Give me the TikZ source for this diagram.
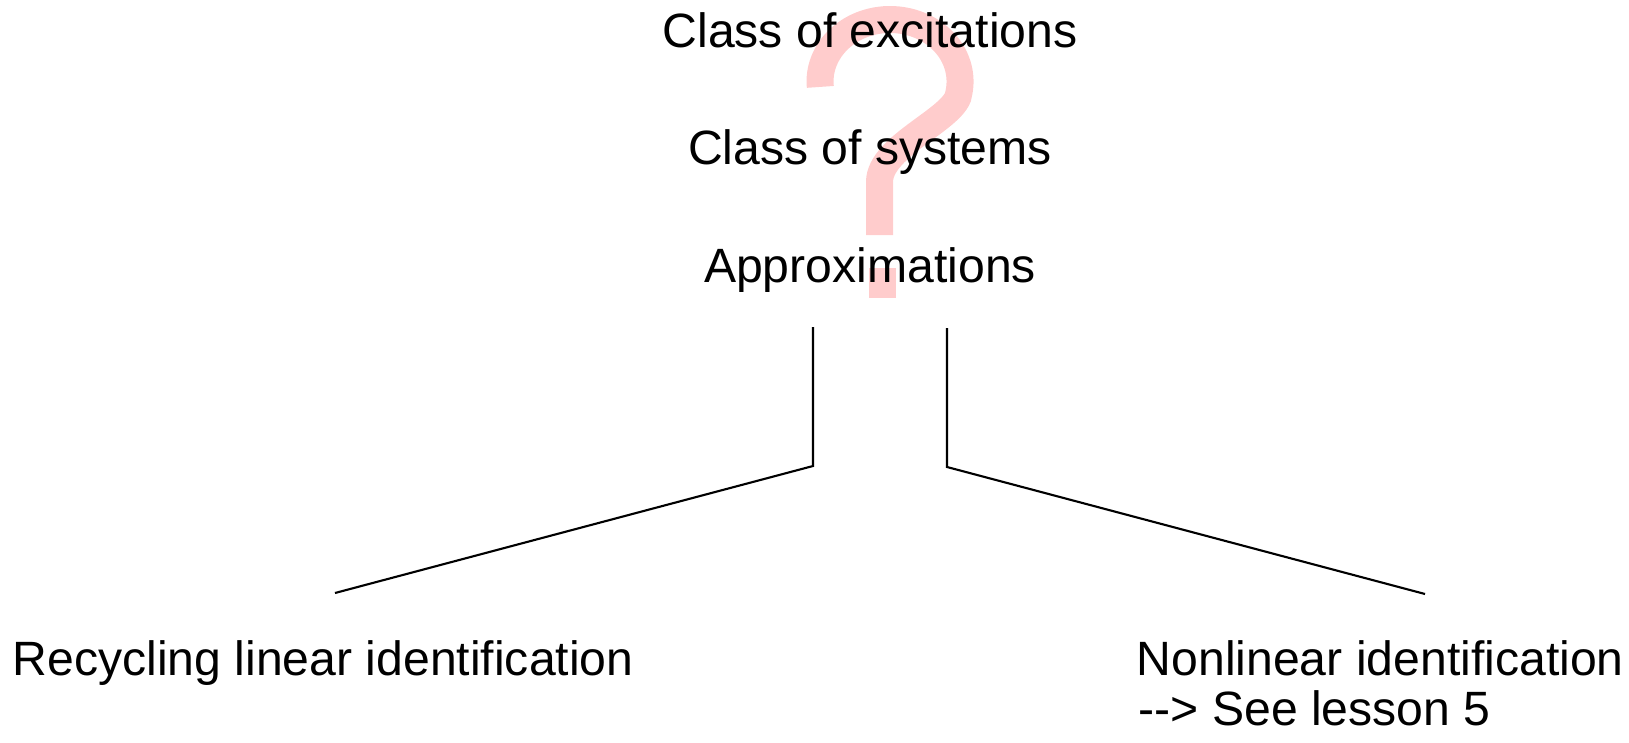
\documentclass[tikz,border=0pt]{standalone}
\usepackage{fontspec}
\setmainfont{Liberation Sans}
\definecolor{querycolor}{RGB}{255,204,204}

\begin{document}
\begin{tikzpicture}[every node/.style={font=\fontsize{13.7}{16}\selectfont,inner sep=0pt,anchor=base}]
  \useasboundingbox (0,0) rectangle (16.29,-7.42);
  % Question mark
  \draw [querycolor,line width=0.27cm](8.203,-0.869) arc[start angle=185,end angle=-10,x radius=0.70,y radius=0.62]
    .. controls (9.58,-1.18) and (8.795,-1.45) .. (8.795,-1.82) -- (8.795,-2.35);
  \fill [querycolor](8.69,-2.68) rectangle (8.96,-2.98);
  % Open questions
  \node at(8.70,-0.48)(excit){Class of excitations};
  \node at(8.70,-1.64)(systems){Class of systems};
  \node at(8.70,-2.82)(approx){Approximations};
  % Branches
  \coordinate (ltop) at(8.13,-3.27);
  \coordinate (lknee) at(8.13,-4.66);
  \coordinate (lend) at(3.35,-5.93);
  \coordinate (rtop) at(9.47,-3.28);
  \coordinate (rknee) at(9.47,-4.67);
  \coordinate (rend) at(14.25,-5.94);
  \draw [line width=0.6pt](ltop) -- (lknee) -- (lend);
  \draw [line width=0.6pt](rtop) -- (rknee) -- (rend);
  % Outcomes
  \node at(0.12,-6.75)[anchor=base west](linear){Recycling linear identification};
  \node at(11.36,-6.75)[anchor=base west](nonlin){Nonlinear identification};
  \node at(11.38,-7.25)[anchor=base west](lesson){-\kern0pt-\kern0pt> See lesson 5};
\end{tikzpicture}
\end{document}
